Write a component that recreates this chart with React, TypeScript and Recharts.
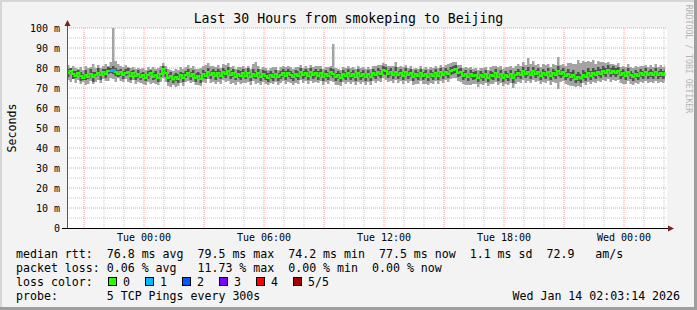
import React from 'react';
import { ComposedChart, Area, Line, XAxis, YAxis, CartesianGrid } from 'recharts';

const STEP_HOURS = 0.125;
const END_HOURS = 29.9;

const median = [
  77.5, 78.5, 77, 76, 77.5, 76, 75, 76.5, 75.5, 77, 75.5, 76.5, 77.5, 76.5, 78, 77, 78.5, 78.5, 79, 78,
  77, 78, 76.5, 77.5, 78, 76, 77.5, 76, 77, 75.5, 76.5, 75, 76.5, 77.5, 75.5, 76.5, 75, 77, 79.5, 77.5,
  75, 76, 74.2, 75.5, 74.5, 76.5, 75, 76.5, 77.5, 76, 77, 75, 76, 74.5, 77, 76, 78, 76.5, 77.5, 76,
  77.5, 76, 78, 77, 78.5, 76.5, 77.5, 75.5, 77, 76, 77.5, 76, 77.5, 75.5, 77, 76, 77.5, 75.5, 77, 76,
  75, 76.5, 75.5, 77, 75.5, 76.5, 77.5, 76, 77.5, 76.5, 75.5, 77, 76, 78, 76.5, 77.5, 76, 78, 76.5, 77.5,
  76, 77.5, 75.5, 77, 76, 78, 77, 75.5, 76.5, 75, 77, 76, 77.5, 76, 77, 75.5, 77.5, 76, 77, 75.5,
  77, 75.5, 77.5, 76.5, 78, 77, 79, 78.5, 77, 78, 76.5, 78, 76.5, 77.5, 76, 78, 76.5, 77.5, 75.5, 77,
  76, 77.5, 76, 77, 75.5, 77, 76, 77.5, 76, 78, 76.5, 78, 77, 78.5, 79, 79.5, 77.5, 78, 76, 77,
  75.5, 77, 76, 76.5, 75, 76.5, 75.5, 77, 75, 76.5, 76, 77.5, 75.5, 77, 75, 76.5, 75.5, 77, 75, 76.5,
  77.5, 76.5, 78.5, 77, 78, 76.5, 78.5, 77, 78, 76, 77.5, 76.5, 78, 76, 77.5, 76.5, 78.5, 77, 78, 76,
  77, 75.5, 76.5, 74.5, 75.5, 74.8, 76.5, 75.5, 77.5, 76, 77.5, 76.5, 78, 77, 78.5, 77.5, 79, 77.5, 78.5, 77.5,
  78.5, 76.5, 77.5, 76, 78, 76.5, 75.5, 77, 76, 77.5, 76.5, 78, 76.5, 77.5, 76.5, 78, 76.5, 77.5, 76.5, 77.5,
];

const outerLow = [
  74, 73, 74.5, 72.5, 74, 72, 73, 71.5, 72, 73.5, 72, 73, 74, 72.5, 74.5, 73.5, 73.5, 75, 74.5, 73,
  75, 73.5, 73, 74.5, 73, 72.5, 74, 72, 73, 72.5, 72, 71.5, 73, 72, 72.5, 72, 71.5, 73, 75, 73,
  71, 70.5, 71.5, 70.5, 71, 72.5, 71, 73, 73.5, 72.5, 73, 71.5, 71.5, 71, 73, 72.5, 74.5, 72.5, 73, 72,
  73, 72, 74, 73, 73.5, 72, 72.5, 71.5, 73, 72, 72.5, 72.5, 73, 71.5, 73.5, 72, 72.5, 71.5, 73, 72,
  71.5, 72.5, 72, 73, 71.5, 72.5, 73.5, 72, 73, 72.5, 71.5, 72.5, 72, 74, 72.5, 73.5, 72, 73.5, 72.5, 73,
  72.5, 73.5, 71.5, 73, 72, 73.5, 73, 71.5, 71.5, 71, 73, 72, 73, 72, 73, 71.5, 73, 72, 73, 71.5,
  73, 71.5, 73.5, 72.5, 73.5, 73, 75, 74, 73, 73.5, 72.5, 74, 72.5, 73.5, 72, 73.5, 72.5, 73.5, 71.5, 72,
  72, 73.5, 72, 72, 71.5, 72.5, 72, 73.5, 72, 73.5, 72.5, 74, 73, 74.5, 75, 75, 73.5, 73, 72, 71.5,
  71.5, 71.5, 72, 72, 70.5, 72, 71.5, 72.5, 71, 72, 72, 73, 71.5, 72.5, 71, 72, 71.5, 72.5, 70, 72,
  73, 72.5, 74, 72.5, 73.5, 72.5, 74, 73, 73.5, 72, 73, 72.5, 73.5, 71.5, 73, 72.5, 69.5, 73, 73.5, 72,
  71.5, 71, 71, 70.5, 71, 70.5, 72.5, 71.5, 73, 72, 73, 72.5, 73.5, 73, 74, 73.5, 74.5, 73, 74, 73.5,
  74, 72.5, 72, 72, 73.5, 72, 71.5, 72.5, 72, 73, 72.5, 73.5, 72.5, 73, 72.5, 73.5, 72.5, 73, 72.5, 73.5,
];

const outerHigh = [
  81.5, 80, 81, 80, 79.5, 80.5, 79, 81, 80, 80.5, 82, 80, 81.5, 80, 81, 82, 81, 83, 100, 83.5,
  82, 81, 80.5, 81.5, 80.5, 80, 80.5, 79.5, 80, 79.5, 80, 79, 80.5, 79.5, 80.5, 79.5, 80, 81, 82.5, 81,
  79.5, 79, 78.5, 79.5, 79, 80.5, 79.5, 80.5, 81.5, 80, 81, 79.5, 79.5, 80, 81, 81.5, 82.5, 81, 81, 80.5,
  81.5, 80, 82, 81.5, 82.5, 80.5, 81, 79.5, 80.5, 80.5, 81, 80, 81, 79.5, 82, 83, 81, 79.5, 80.5, 80,
  79, 80, 80.5, 80.5, 79, 80.5, 81, 80.5, 81, 80.5, 79.5, 80.5, 80.5, 81.5, 80, 81, 80, 81.5, 80.5, 81,
  81, 81, 79.5, 80.5, 80.5, 81, 92, 80, 79.5, 79, 80.5, 80, 81, 80, 80.5, 79.5, 81, 80, 80.5, 79.5,
  80.5, 79.5, 81, 81, 81.5, 81.5, 82.5, 82, 81, 81, 81, 83, 80.5, 81, 80.5, 81.5, 80, 81, 79.5, 80,
  79.5, 81, 79.5, 80.5, 79.5, 80.5, 80, 81, 80, 81.5, 80.5, 81.5, 82, 82.5, 83, 83, 81.5, 81.5, 80, 80.5,
  80, 80.5, 79.5, 80, 79, 80, 80, 80.5, 79, 80.5, 81, 81, 80.5, 81, 79.5, 80.5, 80.5, 81, 80, 81,
  82, 81, 83, 81.5, 85, 82, 83.5, 81.5, 82, 80.5, 82, 81.5, 82, 80.5, 82, 81.5, 85.5, 81.5, 82, 81,
  82.5, 82.5, 82, 82, 84, 82.5, 83.5, 83, 83.5, 83, 84, 82, 83.5, 83, 83, 82.5, 83, 82, 82, 81.5,
  82.5, 80.5, 81, 80.5, 82, 80.5, 80, 81, 80.5, 81, 81, 81.5, 80.5, 81.5, 80.5, 82, 80.5, 81.5, 80.5, 81.5,
];

const innerLow = [
  75.5, 77, 74.5, 75, 76, 73.5, 74, 74, 74.5, 75, 73, 75.5, 76, 74, 76.5, 75, 77, 77.5, 77, 76,
  75.5, 76, 74.5, 76, 76.5, 74, 76, 74, 75, 74, 75, 73.5, 74.5, 76, 74, 74.5, 73, 75.5, 78, 75.5,
  73, 74, 72.5, 73.5, 72.5, 74.5, 73, 75, 76, 74, 75.5, 73, 74.5, 72.5, 75, 74.5, 76, 74.5, 76, 74,
  75.5, 74.5, 76, 75, 76.5, 74.5, 75.5, 74, 75, 74, 75.5, 74.5, 75.5, 73.5, 75, 74.5, 75.5, 73.5, 75, 74,
  73, 74.5, 73.5, 75, 73.5, 74.5, 75.5, 74, 75.5, 74.5, 73.5, 75, 74, 76, 74.5, 75.5, 74, 76, 74.5, 75.5,
  74, 75.5, 73.5, 75, 74, 76, 75, 73.5, 74.5, 73, 75, 74, 75.5, 74, 75, 73.5, 75.5, 74, 75, 73.5,
  75, 73.5, 75.5, 74.5, 76, 75, 77, 76.5, 75, 76, 74.5, 76, 74.5, 75.5, 74, 76, 74.5, 75.5, 73.5, 75,
  74, 75.5, 74, 75, 73.5, 75, 74, 75.5, 74, 76, 74.5, 76, 75, 76.5, 77, 77.5, 75.5, 76, 74, 75,
  73.5, 75, 74, 74.5, 73, 74.5, 73.5, 75, 73, 74.5, 74, 75.5, 73.5, 75, 73, 74.5, 73.5, 75, 72.5, 74.5,
  75.5, 74.5, 76.5, 75, 76, 74.5, 76.5, 75, 76, 74, 75.5, 74.5, 76, 74, 75.5, 74.5, 76, 75, 76, 74,
  75, 73.5, 74.5, 72.5, 73.5, 72.5, 74.5, 73.5, 75.5, 74, 75.5, 74.5, 76, 75, 76.5, 75.5, 77, 75.5, 76.5, 75.5,
  76.5, 74.5, 75.5, 74, 76, 74.5, 73.5, 75, 74, 75.5, 74.5, 76, 74.5, 75.5, 74.5, 76, 74.5, 75.5, 74.5, 75.5,
];

const innerHigh = [
  79.5, 80, 78.5, 78.5, 79, 78, 77, 79, 77, 79.5, 78, 78, 80, 78, 79.5, 79.5, 80.5, 80, 81, 80,
  79, 79.5, 78.5, 79.5, 80, 78.5, 79, 77.5, 79, 77.5, 78, 77, 78.5, 79, 77.5, 78.5, 77, 79, 81, 79.5,
  77, 78, 76.5, 77.5, 77, 78, 77.5, 78.5, 79.5, 78, 79, 77.5, 78, 77, 79, 78, 80, 78.5, 79.5, 78.5,
  79.5, 78.5, 80, 79, 80.5, 78.5, 79.5, 77.5, 79, 78.5, 79.5, 78, 80, 77.5, 79.5, 78, 79.5, 77.5, 79, 78.5,
  77.5, 78.5, 77.5, 79, 77.5, 78.5, 79.5, 78.5, 79.5, 78.5, 77.5, 79, 78.5, 80, 78.5, 79.5, 78.5, 80, 78.5, 79.5,
  78.5, 79.5, 77.5, 79, 78, 80, 79.5, 77.5, 78.5, 77.5, 79, 78, 79.5, 78, 79, 77.5, 79.5, 78, 79, 77.5,
  79, 77.5, 79.5, 78.5, 80, 79, 81, 80.5, 79, 80, 78.5, 80.5, 78.5, 79.5, 78, 80, 78.5, 79.5, 77.5, 79,
  78, 79.5, 78, 79, 77.5, 79, 78, 79.5, 78, 80, 78.5, 80, 79, 80.5, 81, 81.5, 79.5, 80, 78, 79,
  77.5, 79, 78, 78.5, 77, 78.5, 77.5, 79, 77, 78.5, 78, 79.5, 77.5, 79, 77, 78.5, 77.5, 79, 77, 78.5,
  79.5, 78.5, 80.5, 79, 80.5, 78.5, 80.5, 79, 80, 78, 79.5, 78.5, 80, 78, 79.5, 78.5, 81, 79, 80, 78,
  79.5, 78, 79, 77, 78, 77, 79, 78, 80, 78.5, 80, 79, 80.5, 79.5, 81, 80, 81.5, 80, 81, 80,
  80.5, 78.5, 79.5, 78, 80, 78.5, 77.5, 79, 78, 79.5, 78.5, 80, 78.5, 79.5, 78.5, 80, 78.5, 79.5, 78.5, 79.5,
];

// sample index -> number of lost pings (of 5)
const lossEvents = [
  { index: 17, lost: 1 },
  { index: 18, lost: 1 },
];

const lossColors = ['#26ff00', '#00b8ff', '#0059ff', '#7e00ff', '#ff0000', '#a00000'];
const lossLabels = ['0', '1', '2', '3', '4', '5/5'];

const xTickHours = [3.85, 9.85, 15.85, 21.85, 27.85];
const xTickLabels = ['Tue 00:00', 'Tue 06:00', 'Tue 12:00', 'Tue 18:00', 'Wed 00:00'];
const yTicks = [0, 10, 20, 30, 40, 50, 60, 70, 80, 90, 100];
const yMinorGrid = [5, 15, 25, 35, 45, 55, 65, 75, 85, 95];
const yMajorGrid = [10, 20, 30, 40, 50, 60, 70, 80, 90, 100];
const xMinorGrid = [1.85, 2.85, 4.85, 5.85, 7.85, 8.85, 10.85, 11.85, 13.85, 14.85, 16.85, 17.85, 19.85, 20.85, 22.85, 23.85, 25.85, 26.85, 28.85, 29.85];
const xMajorGrid = [0.85, 3.85, 6.85, 9.85, 12.85, 15.85, 18.85, 21.85, 24.85, 27.85];

const titleText = 'Last 30 Hours from smokeping to Beijing';
const legendLines = [
  'median rtt:  76.8 ms avg  79.5 ms max  74.2 ms min  77.5 ms now  1.1 ms sd  72.9   am/s',
  'packet loss: 0.06 % avg   11.73 % max  0.00 % min  0.00 % now',
];
const probeText = 'probe:       5 TCP Pings every 300s';
const dateText = 'Wed Jan 14 02:03:14 2026';

type Row = {
  t: number;
  median: number;
  outer: [number, number];
  inner: [number, number];
  lossMedian: number | null;
};

const rows: Row[] = median.map((m, i) => ({
  t: i * STEP_HOURS,
  median: m,
  outer: [outerLow[i], outerHigh[i]],
  inner: [innerLow[i], innerHigh[i]],
  lossMedian: null,
}));
lossEvents.forEach((e) => {
  rows[e.index].lossMedian = median[e.index];
  if (rows[e.index + 1]) rows[e.index + 1].lossMedian = median[e.index + 1];
});
const last = rows[rows.length - 1];
rows.push({ ...last, t: END_HOURS, lossMedian: null });

const MONO = '"DejaVu Sans Mono", monospace';

const YTick = (props: any) => {
  const { x, y, payload } = props;
  const v = payload.value as number;
  return (
    <text x={x} y={y} dy="0.355em" textAnchor="end" style={{ fontFamily: MONO, fontSize: 10, fill: '#000' }}>
      {v === 0 ? '0' : `${v} m`}
    </text>
  );
};

const XTick = (props: any) => {
  const { x, y, payload } = props;
  const v = payload.value as number;
  return (
    <text x={x} y={y} dy="0.71em" textAnchor="middle" style={{ fontFamily: MONO, fontSize: 10, fill: '#000' }}>
      {xTickLabels[xTickHours.indexOf(v)] ?? ''}
    </text>
  );
};

export default function App() {
  const legendFont = { fontFamily: MONO, fontSize: 11.6, fill: '#000', whiteSpace: 'pre' as const };
  return (
    <div style={{ position: 'absolute', left: 0, top: 0, width: 697, height: 310, background: '#f3f3f3' }}>
      <ComposedChart
        width={697}
        height={310}
        data={rows}
        margin={{ top: 28, right: 30, bottom: 62, left: 27 }}
      >
        <CartesianGrid
          fill="#ffffff"
          stroke="#c8c8c8"
          strokeDasharray="1 1"
          horizontalValues={yMinorGrid}
          verticalValues={xMinorGrid}
        />
        <CartesianGrid
          stroke="#f39a9a"
          strokeDasharray="1 1"
          horizontalValues={yMajorGrid}
          verticalValues={xMajorGrid}
        />
        <XAxis
          type="number"
          dataKey="t"
          domain={[0, 30]}
          ticks={xTickHours}
          interval={0}
          tick={<XTick />}
          tickLine={false}
          axisLine={false}
          tickSize={4}
          tickMargin={2}
          height={20}
          allowDataOverflow
        />
        <YAxis
          type="number"
          domain={[0, 100]}
          ticks={yTicks}
          interval={0}
          tick={<YTick />}
          tickLine={false}
          axisLine={false}
          tickSize={5}
          tickMargin={2}
          width={40}
          allowDataOverflow
        />
        <Area
          type="stepAfter"
          dataKey="outer"
          fill="#a3a3a3"
          fillOpacity={1}
          stroke="none"
          isAnimationActive={false}
        />
        <Area
          type="stepAfter"
          dataKey="inner"
          fill="#525252"
          fillOpacity={1}
          stroke="none"
          isAnimationActive={false}
        />
        <Line
          type="stepAfter"
          dataKey="median"
          stroke={lossColors[0]}
          strokeWidth={2}
          dot={false}
          isAnimationActive={false}
        />
        <Line
          type="stepAfter"
          dataKey="lossMedian"
          stroke={lossColors[lossEvents[0].lost]}
          strokeWidth={2}
          dot={false}
          connectNulls={false}
          isAnimationActive={false}
        />
      </ComposedChart>
      <svg
        width={697}
        height={310}
        style={{ position: 'absolute', left: 0, top: 0, pointerEvents: 'none' }}
      >
        <rect x={0} y={0} width={697} height={2} fill="#d6d6d6" />
        <rect x={0} y={0} width={2} height={310} fill="#d6d6d6" />
        <rect x={0} y={307} width={697} height={3} fill="#9e9e9e" />
        <rect x={694} y={0} width={3} height={310} fill="#9e9e9e" />
        <line x1={67.5} y1={22} x2={67.5} y2={228} stroke="#555" strokeWidth={1} />
        <line x1={62} y1={228.5} x2={669} y2={228.5} stroke="#000" strokeWidth={1} />
        <polygon points="64.5,26 70.5,26 67.5,20" fill="#7f1f1f" />
        <polygon points="668,225.5 668,231.5 674,228.5" fill="#7f1f1f" />
        <text x={348.5} y={23} textAnchor="middle" style={{ fontFamily: MONO, fontSize: 13.2, fill: '#000' }}>
          {titleText}
        </text>
        <text
          x={0}
          y={0}
          transform="translate(15.5,128) rotate(-90)"
          textAnchor="middle"
          style={{ fontFamily: MONO, fontSize: 11.6, fill: '#000' }}
        >
          Seconds
        </text>
        <text
          x={0}
          y={0}
          transform="translate(686,59) rotate(90)"
          textAnchor="middle"
          style={{ fontFamily: MONO, fontSize: 8.2, fill: '#b4b4b4' }}
        >
          RRDTOOL / TOBI OETIKER
        </text>
        <text x={16} y={258} style={legendFont}>{legendLines[0]}</text>
        <text x={16} y={272} style={legendFont}>{legendLines[1]}</text>
        <text x={16} y={286} style={legendFont}>loss color:</text>
        {lossColors.map((c, k) => (
          <g key={k}>
            <rect x={108.5 + 37 * k} y={277.5} width={8} height={8} fill={c} stroke="#000" strokeWidth={1} />
            <text x={123 + 37 * k} y={286} style={legendFont}>{lossLabels[k]}</text>
          </g>
        ))}
        <text x={16} y={300} style={legendFont}>{probeText}</text>
        <text x={512.5} y={300} style={legendFont}>{dateText}</text>
      </svg>
    </div>
  );
}
